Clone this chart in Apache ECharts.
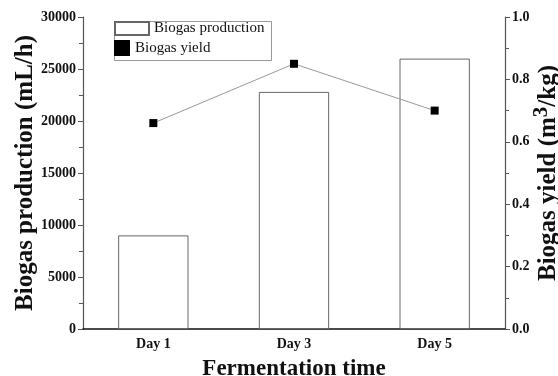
<!DOCTYPE html>
<html><head><meta charset="utf-8">
<script src="https://cdn.jsdelivr.net/npm/echarts@6/dist/echarts.min.js"></script>
<style>html,body{margin:0;padding:0;background:#fff}#c{width:558px;height:376px}</style>
</head><body><div id="c"></div>
<script>
const categories = ['Day 1', 'Day 3', 'Day 5'];
const biogasProduction = [9000, 22800, 26000];
const biogasYield = [0.66, 0.85, 0.70];
const leftTicks = [0, 5000, 10000, 15000, 20000, 25000, 30000];
const rightTicks = [0.0, 0.2, 0.4, 0.6, 0.8, 1.0];

const serif = '"Liberation Serif", "Times New Roman", serif';
const chart = echarts.init(document.getElementById('c'));
chart.setOption({
  animation: false,
  backgroundColor: '#fff',
  grid: { left: 83, right: 53, top: 17, bottom: 47, containLabel: false, outerBoundsMode: 'none' },
  legend: [
    { left: 114, top: 21, padding: 0, itemWidth: 34, itemHeight: 13, itemGap: 0,
      data: [{ name: 'Biogas production', icon: 'rect' }],
      textStyle: { fontFamily: serif, fontSize: 15, color: '#111' } },
    { left: 114, top: 40, padding: 0, itemWidth: 16, itemHeight: 16, itemGap: 0,
      data: [{ name: 'Biogas yield', icon: 'rect' }],
      textStyle: { fontFamily: serif, fontSize: 15, color: '#111' } }
  ],
  graphic: [{ type: 'rect', left: 112, top: 19, shape: { width: 157, height: 39 },
    style: { fill: 'none', stroke: '#999', lineWidth: 1 } }],
  xAxis: {
    type: 'category', data: categories,
    axisLine: { lineStyle: { color: '#111', width: 1.5 } },
    axisTick: { show: false },
    axisLabel: { fontFamily: serif, fontWeight: 'bold', fontSize: 14, color: '#111', margin: 8 },
    name: 'Fermentation time', nameLocation: 'middle', nameGap: 29, nameMoveOverlap: false,
    nameTextStyle: { fontFamily: serif, fontWeight: 'bold', fontSize: 23, color: '#111' }
  },
  yAxis: [{
    type: 'value', min: 0, max: 30000, interval: 5000,
    axisLine: { show: true, lineStyle: { color: '#555', width: 1.2 } },
    axisTick: { show: true, inside: false, length: 5, lineStyle: { color: '#555' } },
    minorTick: { show: true, splitNumber: 2, length: 4, lineStyle: { color: '#555' } },
    splitLine: { show: false },
    axisLabel: { fontFamily: serif, fontWeight: 'bold', fontSize: 14, color: '#111', margin: 7,
      formatter: v => leftTicks.includes(v) ? String(v) : '' },
    name: 'Biogas production (mL/h)', nameLocation: 'middle', nameGap: 45, nameMoveOverlap: false,
    nameTextStyle: { fontFamily: serif, fontWeight: 'bold', fontSize: 25, color: '#111' }
  }, {
    type: 'value', min: 0, max: 1.0, interval: 0.2, position: 'right',
    axisLine: { show: true, lineStyle: { color: '#555', width: 1.2 } },
    axisTick: { show: true, inside: false, length: 5, lineStyle: { color: '#555' } },
    minorTick: { show: true, splitNumber: 2, length: 4, lineStyle: { color: '#555' } },
    splitLine: { show: false },
    axisLabel: { fontFamily: serif, fontWeight: 'bold', fontSize: 14, color: '#111', margin: 7,
      formatter: v => rightTicks.some(t => Math.abs(t - v) < 1e-9) ? v.toFixed(1) : '' },
    name: '{a|Biogas yield (m}{s|3}{a|/kg)}', nameLocation: 'middle', nameGap: 26, nameRotate: 90, nameMoveOverlap: false,
    nameTextStyle: { fontFamily: serif, fontWeight: 'bold', fontSize: 25, color: '#111',
      rich: { a: { fontFamily: serif, fontWeight: 'bold', fontSize: 25, color: '#111', lineHeight: 30, verticalAlign: 'bottom' },
              s: { fontFamily: serif, fontWeight: 'bold', fontSize: 21, color: '#111', lineHeight: 30, verticalAlign: 'top' } } }
  }],
  series: [{
    name: 'Biogas production', type: 'bar', data: biogasProduction, barWidth: '50%', yAxisIndex: 0,
    itemStyle: { color: '#fff', borderColor: '#666', borderWidth: 1 }
  }, {
    name: 'Biogas yield', type: 'line', data: biogasYield, yAxisIndex: 1,
    symbol: 'rect', symbolSize: 8,
    itemStyle: { color: '#000' },
    lineStyle: { color: '#999', width: 1 }
  }]
});
</script></body></html>
